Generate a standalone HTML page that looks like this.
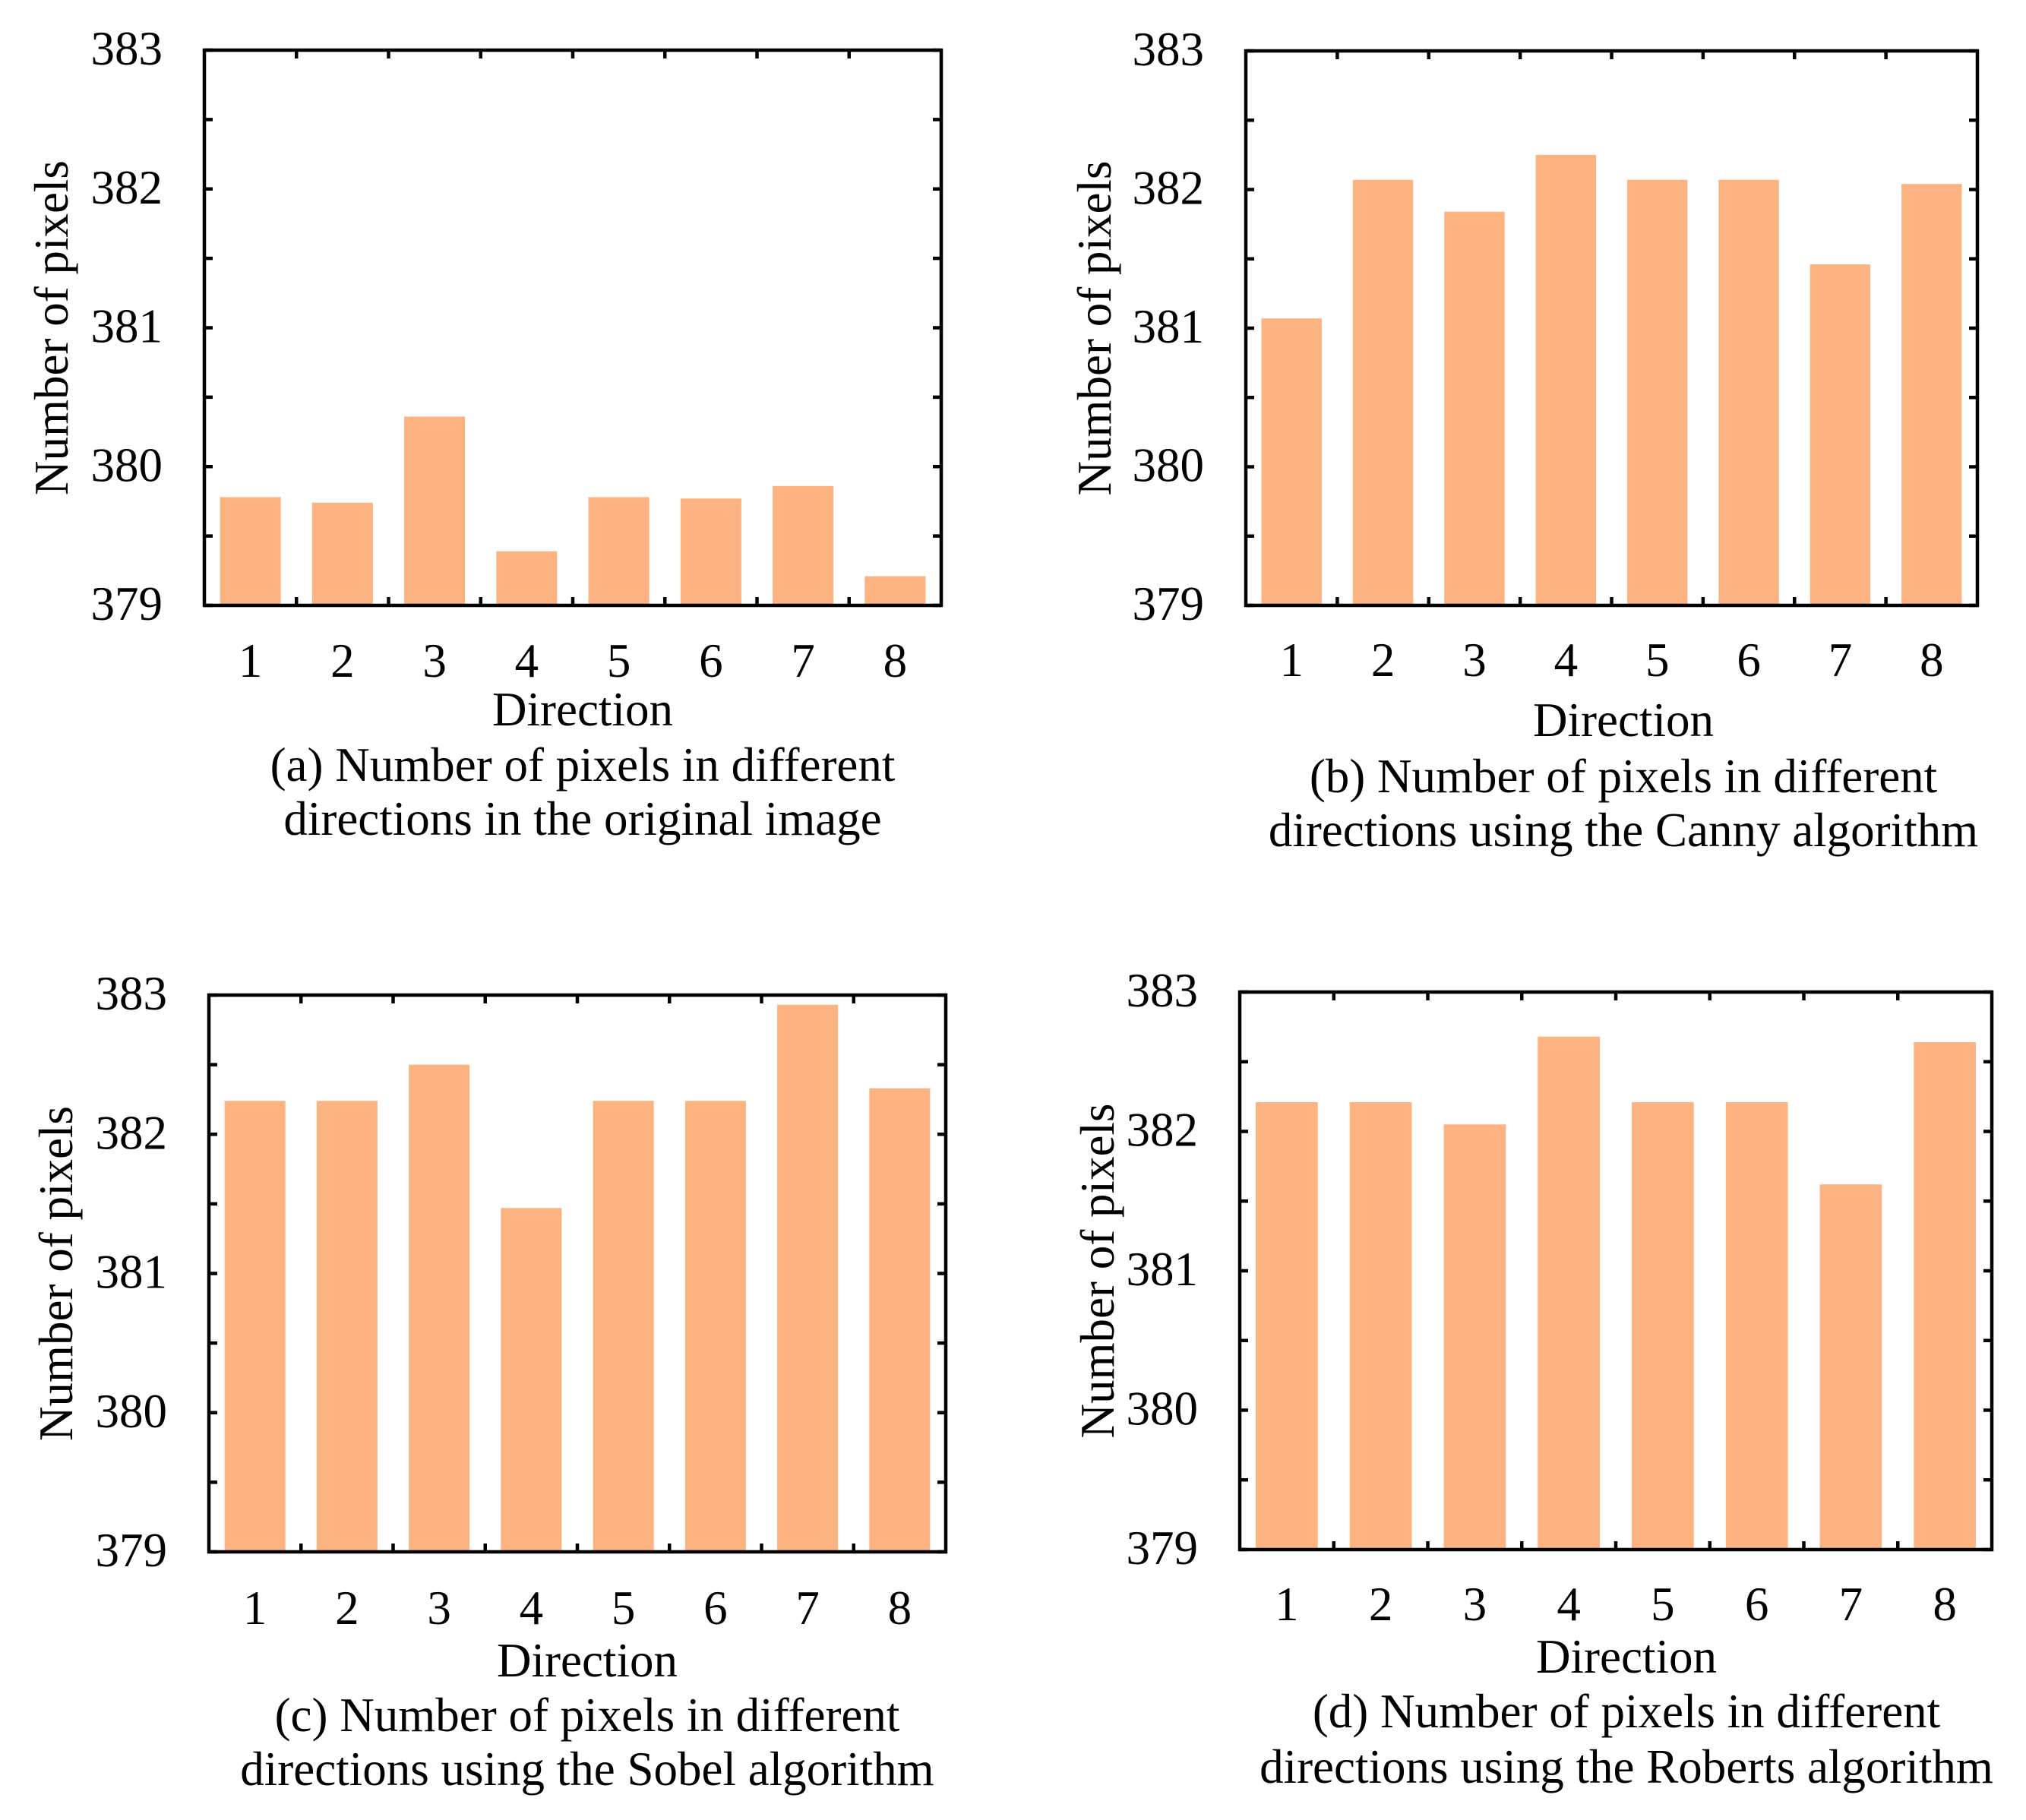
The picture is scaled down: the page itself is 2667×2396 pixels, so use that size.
<!DOCTYPE html>
<html><head><meta charset="utf-8"><style>
html,body{margin:0;padding:0;background:#fff;}
svg{display:block;font-family:"Liberation Serif",serif;}
</style></head><body>
<svg id="fig" width="2667" height="2396" viewBox="0 0 2667 2396"></svg>
<script>
const categories = ["1","2","3","4","5","6","7","8"];
const yTicks = [379,380,381,382,383];
const valuesA = [379.78,379.74,380.36,379.39,379.78,379.77,379.86,379.21];
const valuesB = [381.07,382.07,381.84,382.25,382.07,382.07,381.46,382.04];
const valuesC = [382.24,382.24,382.50,381.47,382.24,382.24,382.93,382.33];
const valuesD = [382.21,382.21,382.05,382.68,382.21,382.21,381.62,382.64];
const captionsA = ["(a) Number of pixels in different","directions in the original image"];
const captionsB = ["(b) Number of pixels in different","directions using the Canny algorithm"];
const captionsC = ["(c) Number of pixels in different","directions using the Sobel algorithm"];
const captionsD = ["(d) Number of pixels in different","directions using the Roberts algorithm"];

const NS="http://www.w3.org/2000/svg";
const svg=document.getElementById('fig');
function mk(tag,attrs,parent){const e=document.createElementNS(NS,tag);for(const k in attrs)e.setAttribute(k,attrs[k]);parent.appendChild(e);return e;}

const FS=63;
const panels=[
 {id:'a',vals:valuesA,cap:captionsA,L:269,R:1239,T:66,B:797,tickY:876,dirY:938,capY:[1012,1083],cx:767,ylx:67},
 {id:'b',vals:valuesB,cap:captionsB,L:1640,R:2603,T:67,B:797,tickY:875,dirY:952,capY:[1027,1098],cx:2137,ylx:1440},
 {id:'c',vals:valuesC,cap:captionsC,L:275,R:1245,T:1310,B:2043,tickY:2123,dirY:2190,capY:[2263,2334],cx:773,ylx:73},
 {id:'d',vals:valuesD,cap:captionsD,L:1632,R:2622,T:1306,B:2040,tickY:2118,dirY:2185,capY:[2258,2331],cx:2141,ylx:1444}
];

panels.forEach(p=>{
  const g=mk('g',{},svg);
  
  
  const ymin=yTicks[0],ymax=yTicks[yTicks.length-1];
  const y=v=>p.B-(v-ymin)/(ymax-ymin)*(p.B-p.T);
  const cw=(p.R-p.L)/categories.length;
  const x=i=>p.L+cw*(i+0.5);
  const bw=cw*0.66;
  p.vals.forEach((v,i)=>{
    const r=mk('rect',{x:x(i)-bw/2,y:y(v),width:bw,height:p.B-y(v),fill:'#FDB282'},g);
    
    
  });
  const tl=11;
  for(let k=0;k<=(yTicks.length-1)*2;k++){
    const v=ymin+k*0.5, yy=y(v);
    mk('line',{x1:p.L,x2:p.L+tl,y1:yy,y2:yy,stroke:'#000','stroke-width':4.5},g);
    mk('line',{x1:p.R,x2:p.R-tl,y1:yy,y2:yy,stroke:'#000','stroke-width':4.5},g);
  }
  for(let i=1;i<categories.length;i++){
    const xx=p.L+cw*i;
    mk('line',{x1:xx,x2:xx,y1:p.B,y2:p.B-tl,stroke:'#000','stroke-width':4.5},g);
    mk('line',{x1:xx,x2:xx,y1:p.T,y2:p.T+tl,stroke:'#000','stroke-width':4.5},g);
  }
  const fr=mk('rect',{x:p.L,y:p.T,width:p.R-p.L,height:p.B-p.T,fill:'none',stroke:'#000','stroke-width':4.5},g);
  
  
  yTicks.forEach(v=>{
    const t=mk('text',{x:p.L-55,y:y(v)+19,'text-anchor':'end','font-size':FS},g);
    t.textContent=v;
    
    
  });
  categories.forEach((c,i)=>{
    const t=mk('text',{x:x(i),y:p.tickY+15,'text-anchor':'middle','font-size':FS},g);
    t.textContent=c;
    
    
  });
  const yl=mk('text',{x:0,y:0,'text-anchor':'middle','font-size':FS,transform:`translate(${p.ylx+22},${(p.T+p.B)/2}) rotate(-90)`},g);
  yl.textContent='Number of pixels';
  
  
  const xl=mk('text',{x:p.cx,y:p.dirY+17,'text-anchor':'middle','font-size':FS},g);
  xl.textContent='Direction';
  
  
  p.cap.forEach((s,i)=>{
    const t=mk('text',{x:p.cx,y:p.capY[i]+16,'text-anchor':'middle','font-size':FS},g);
    t.textContent=s;
    
    
  });
});
</script>
</body></html>
